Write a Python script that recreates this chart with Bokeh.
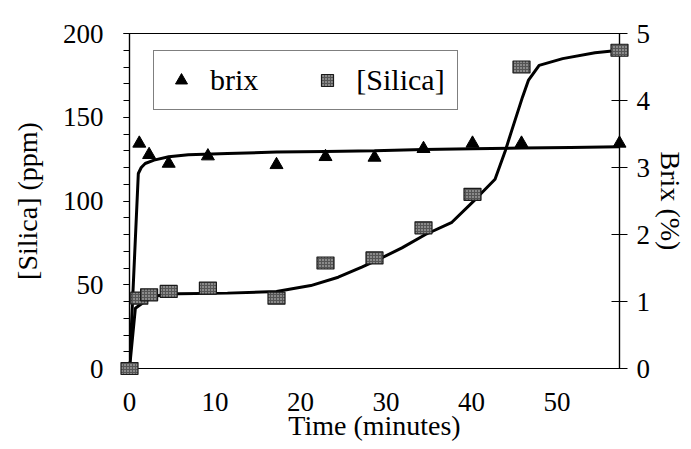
from bokeh.embed import file_html
from bokeh.models import (Legend, LegendItem, LinearAxis, Range1d,
                          SingleIntervalTicker)
from bokeh.plotting import figure
from bokeh.resources import INLINE

# ---- measured samples -------------------------------------------------------
time_min = [0, 1, 2, 4, 8, 15, 20, 25, 30, 35, 40, 50]
brix_pct = [0, 3.36, 3.19, 3.06, 3.17, 3.04, 3.16, 3.15, 3.28, 3.36, 3.36, 3.36]
silica_ppm = [0, 42, 44, 46, 48, 42, 63, 66, 84, 104, 180, 190]

# ---- fitted trend curves ----------------------------------------------------
brix_fit_t = [0, 0.9, 1.2, 1.6, 2.5, 4, 6, 10, 15, 20, 25, 30, 35, 40, 45, 50]
brix_fit = [0, 2.91, 3.0, 3.06, 3.11, 3.16, 3.19, 3.21, 3.23, 3.24, 3.25,
            3.27, 3.28, 3.29, 3.30, 3.31]

silica_fit_t = [0, 0.6, 1.3, 2.4, 3.5, 5, 10, 15, 18.5, 21.3, 23.7, 25.2,
                27.8, 30.2, 32.9, 35.3, 37.3, 38.35, 39.0, 40.1, 40.7, 41.8,
                44.2, 47.5, 50]
silica_fit = [0, 36, 39, 43, 44, 44.6, 45, 46, 49.5, 54.5, 60.5, 64.5, 72,
              80, 87.3, 101, 113, 130, 142, 162, 172, 181, 185, 188.5, 190]

# axis extents and tick spacing
time_span = (0, 50)
silica_span = (0, 200)
brix_span = (0, 5)
time_tick_step = 10
silica_tick_step = 50
brix_tick_step = 1

# ---- page geometry (pixels) -------------------------------------------------
W, H = 691, 449
BOX_L, BOX_R, BOX_T, BOX_B = 129, 619, 33, 368   # plot frame
TIME_LABEL_PX_PER_UNIT = 8.55                    # spacing of the time labels

FONT = "Liberation Serif"

p = figure(width=W, height=H,
           x_range=Range1d(*time_span), y_range=Range1d(*silica_span),
           output_backend="svg", toolbar_location=None,
           x_axis_location=None, y_axis_location=None,
           min_border_left=BOX_L, min_border_right=W - BOX_R,
           min_border_top=BOX_T, min_border_bottom=H - BOX_B)
p.outline_line_color = "black"
p.outline_line_width = 1.2
p.grid.visible = False
p.background_fill_color = "white"
p.border_fill_color = "white"

p.extra_y_ranges = {"brix": Range1d(*brix_span)}
p.extra_x_ranges = {"time_axis": Range1d(0, (BOX_R - BOX_L) / TIME_LABEL_PX_PER_UNIT)}


def style_axis(ax):
    ax.axis_line_color = "black"
    ax.axis_line_width = 1.2
    ax.major_label_text_font = FONT
    ax.major_label_text_font_size = "27px"
    ax.major_label_text_color = "black"
    ax.axis_label_text_font = FONT
    ax.axis_label_text_font_size = "28px"
    ax.axis_label_text_font_style = "normal"
    ax.axis_label_text_color = "black"
    ax.major_tick_line_color = "black"
    ax.minor_tick_line_color = "black"


left = LinearAxis(ticker=SingleIntervalTicker(interval=silica_tick_step, num_minor_ticks=5),
                  axis_label="[Silica] (ppm)")
style_axis(left)
left.major_tick_out, left.major_tick_in = 6, 0
left.minor_tick_out, left.minor_tick_in = 6, 0
left.major_label_standoff = 20
left.axis_label_standoff = 17
p.add_layout(left, "left")

right = LinearAxis(y_range_name="brix",
                   ticker=SingleIntervalTicker(interval=brix_tick_step, num_minor_ticks=0),
                   axis_label="Brix (%)", axis_label_orientation="vertical")
style_axis(right)
right.major_tick_out, right.major_tick_in = 8, 8
right.minor_tick_out, right.minor_tick_in = 0, 0
right.major_label_standoff = 9
right.axis_label_standoff = 2
p.add_layout(right, "right")

bottom = LinearAxis(x_range_name="time_axis",
                    ticker=SingleIntervalTicker(interval=time_tick_step, num_minor_ticks=0),
                    axis_label="Time (minutes)")
style_axis(bottom)
bottom.major_tick_out, bottom.major_tick_in = 0, 0
bottom.minor_tick_out, bottom.minor_tick_in = 0, 0
bottom.major_label_standoff = 24
bottom.axis_label_standoff = -4
p.add_layout(bottom, "below")

# ---- trend curves -----------------------------------------------------------
p.line(silica_fit_t, silica_fit, line_color="black", line_width=3)
p.line(brix_fit_t, brix_fit, y_range_name="brix", line_color="black", line_width=3)

# ---- sample markers (overlay level, so edge markers are drawn whole) ---------
square_style = dict(fill_color="#555555", line_color="#1a1a1a", line_width=1.2,
                    hatch_pattern="dot", hatch_color="#d9d9d9", hatch_scale=3,
                    hatch_weight=1)

tri = p.scatter(time_min, brix_pct, y_range_name="brix", marker="triangle",
                size=13, fill_color="black", line_color="black", level="overlay")
# zero-size square markers: only used as the legend key of the silica series
silica_key = p.scatter(time_min, silica_ppm, marker="square", size=0, **square_style)
p.rect(time_min, silica_ppm, width=17, height=12, width_units="screen",
       height_units="screen", level="overlay", **square_style)

legend = Legend(items=[LegendItem(label="brix", renderers=[tri]),
                       LegendItem(label="[Silica]", renderers=[silica_key])],
                orientation="horizontal", location=(153 - BOX_L, BOX_B - 110),
                margin=0, padding=12, spacing=54, label_standoff=14,
                glyph_width=30, glyph_height=30,
                label_text_font=FONT, label_text_font_size="30px",
                label_text_color="black",
                border_line_color="black", border_line_width=1.2,
                background_fill_color="white", background_fill_alpha=1)
p.add_layout(legend)

open("out.html", "w").write(file_html(p, INLINE))
